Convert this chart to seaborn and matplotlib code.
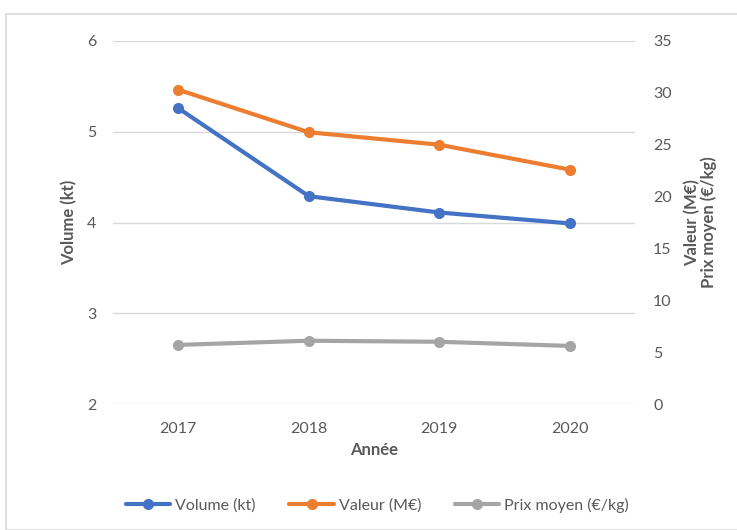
import matplotlib
matplotlib.use('Agg')
import matplotlib.pyplot as plt
import seaborn as sns
import pandas as pd
from matplotlib.patches import Rectangle
from matplotlib.lines import Line2D

# données
annees = ['2017', '2018', '2019', '2020']
volume = [5.26, 4.29, 4.11, 3.99]
valeur = [30.3, 26.2, 25.0, 22.6]
prix_moyen = [5.7, 6.1, 6.0, 5.6]

df = pd.DataFrame({'pos': range(len(annees)), 'volume': volume,
                   'valeur': valeur, 'prix': prix_moyen})

sns.set_style('white')
plt.rcParams['font.family'] = ['Lato', 'DejaVu Sans']

gris = '#595959'
c_vol, c_val, c_prix = '#4472C4', '#ED7D31', '#A5A5A5'

fig = plt.figure(figsize=(7.37, 5.3), dpi=100)
ax = fig.add_axes([113/737, 1-404/530, (635-113)/737, (404-41)/530])
ax2 = ax.twinx()

sns.lineplot(data=df, x='pos', y='volume', ax=ax, color=c_vol, lw=3,
             marker='o', markersize=8, markeredgewidth=0)
sns.lineplot(data=df, x='pos', y='valeur', ax=ax2, color=c_val, lw=3,
             marker='o', markersize=8, markeredgewidth=0)
sns.lineplot(data=df, x='pos', y='prix', ax=ax2, color=c_prix, lw=3,
             marker='o', markersize=8, markeredgewidth=0)

ax.set_xlim(-0.5, 3.5)
ax.set_ylim(2, 6)
ax.set_yticks([2, 3, 4, 5, 6])
ax2.set_ylim(0, 35)
ax2.set_yticks(range(0, 36, 5))
ax.set_xticks(range(len(annees)))
ax.set_xticklabels(annees)

ax.grid(axis='y', color='#D9D9D9', lw=1)
ax.set_axisbelow(True)
for a in (ax, ax2):
    for s in a.spines.values():
        s.set_visible(False)
    a.tick_params(length=0, colors=gris, labelsize=11.5)
ax.tick_params(axis='y', pad=12)
ax2.tick_params(axis='y', pad=13)
ax.tick_params(axis='x', pad=13)

ax.set_xlabel('Année', color=gris, fontsize=12, fontweight='bold', labelpad=4)
ax.set_ylabel('Volume (kt)', color=gris, fontsize=12, fontweight='bold', labelpad=7)
ax2.set_ylabel('Valeur (M€)\nPrix moyen (€/kg)', color=gris, fontsize=12,
               fontweight='bold', labelpad=9, linespacing=1.0)

handles = [Line2D([], [], color=c, lw=3, marker='o', markersize=8, markeredgewidth=0)
           for c in (c_vol, c_val, c_prix)]
fig.legend(handles, ['Volume (kt)', 'Valeur (M€)', 'Prix moyen (€/kg)'],
           loc='center', bbox_to_anchor=(0.512, 1-505/530), ncol=3, frameon=False,
           fontsize=11.5, labelcolor=gris, handlelength=2.8, columnspacing=2.1,
           handletextpad=0.3)

# cadre du graphique
fig.patches.append(Rectangle((6/737, 0), 1, 1-14/530, transform=fig.transFigure,
                             fill=False, edgecolor='#D9D9D9', lw=1.2))

fig.savefig('out.png', dpi=100)
